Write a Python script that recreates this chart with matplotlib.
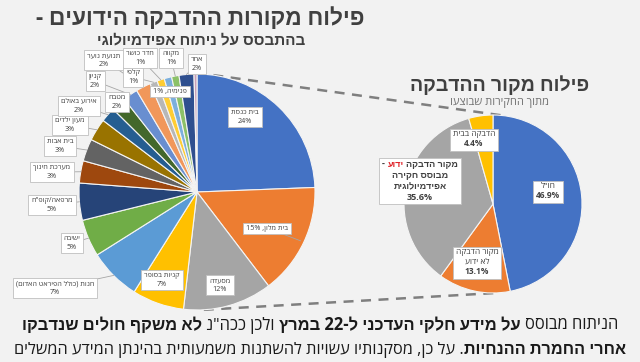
import re
import numpy as np
import matplotlib
matplotlib.use('Agg')
import matplotlib.pyplot as plt
from matplotlib.patches import Rectangle

plt.rcParams['font.family'] = ['Open Sans', 'Liberation Sans', 'DejaVu Sans']

W, H = 640, 362
BG = '#f2f2f2'
TXT = '#404040'

# known infection places - main pie, clockwise from 12 o'clock
places = ['בית כנסת', 'בית מלון', 'מסעדה', 'קניות בסופר', 'חנות (כולל הפיראט האדום)',
          'ישיבה', 'מרפאה/קופ"ח', 'מערכת חינוך', 'בית אבות', 'מעון ילדים',
          'אירוע באולם', 'מטבח', 'קניון', 'תנועת נוער', 'קלפי', 'חדר כושר',
          'פנימיה', 'מקווה', 'אחר', '']
place_pct = [24, 15, 12, 7, 7, 5, 5, 3, 3, 3, 2, 2, 2, 2, 1, 1, 1, 1, 2, 0.4]
place_colors = ['#4472C4', '#ED7D31', '#A5A5A5', '#FFC000', '#5B9BD5', '#70AD47',
                '#264478', '#9E480E', '#636363', '#997300', '#255E91', '#43682B',
                '#698ED0', '#F1975A', '#B7B7B7', '#FFCD33', '#7CAFDD', '#8CC168',
                '#2F4F8F', '#C9A0B8']
one_line = ['בית מלון', 'פנימיה']
# label centres (pixels, y from top)
place_label_xy = [(245, 117), (267, 228), (220, 285), (162, 280), (55, 288),
                  (72, 243), (52, 205), (52, 172), (60, 146), (70, 125),
                  (79, 106), (117, 102), (95, 81), (104, 60), (133, 77),
                  (140, 58), (170, 91), (171, 58), (197, 64), None]

# infection source - small pie, clockwise from 12 o'clock
sources = ['חו"ל', 'מקור הדבקה|לא ידוע', 'מקור הדבקה [ידוע] -|מבוסס חקירה|אפידמיולוגית', 'הדבקה בבית']
source_pct = [46.9, 13.1, 35.6, 4.4]
source_colors = ['#4472C4', '#ED7D31', '#A5A5A5', '#FFC000']
source_label_xy = [(548, 191), (477, 262), (420, 181), (474, 139)]

title = 'פילוח מקורות ההדבקה הידועים -'
subtitle = 'בהתבסס על ניתוח אפידמיולוגי'
title2 = 'פילוח מקור ההדבקה'
subtitle2 = 'מתוך החקירות שבוצעו'
note1 = 'הניתוח מבוסס **על מידע חלקי העדכני ל-22 במרץ** ולכן ככה"נ **לא משקף חולים שנדבקו**'
note2 = '**אחרי החמרת ההנחיות**. על כן, מסקנותיו עשויות להשתנות משמעותית בהינתן המידע המשלים'


def rtl(s):
    # visual order for right-to-left text, keeping numbers left-to-right
    s = s[::-1].translate(str.maketrans('()', ')('))
    return re.sub(r'%?\d+(?:[.,]\d+)*', lambda m: m.group(0)[::-1], s)


fig = plt.figure(figsize=(W / 100, H / 100), dpi=100, facecolor=BG)
ax = fig.add_axes([0, 0, 1, 1])
ax.set_facecolor(BG)
ax.set_xlim(0, W)
ax.set_ylim(0, H)
ax.axis('off')
rend = fig.canvas.get_renderer()


def text_w(s, fs, wt):
    t = ax.text(0, 0, s, fontsize=fs, fontweight=wt)
    w = t.get_window_extent(rend).width
    t.remove()
    return w


def parse(line, bold=False):
    segs, red = [], False
    for tok in re.split(r'(\*\*|\[|\])', line):
        if tok == '**':
            bold = not bold
        elif tok == '[':
            red = True
        elif tok == ']':
            red = False
        elif tok:
            segs.append((tok, 'bold' if (bold or red) else 'normal', '#e0242a' if red else TXT))
    return segs


def rtl_line(xc, y, segs, fs, color=None, z=5):
    sp = text_w('א א', fs, 'normal') - text_w('אא', fs, 'normal')
    items, total = [], 0
    for s, wt, col in segs:
        core = s.strip()
        lead = len(s) - len(s.lstrip())
        trail = len(s) - len(s.rstrip())
        w = text_w(rtl(core), fs, wt)
        items.append((core, wt, color or col, lead, trail, w))
        total += w + sp * (lead + trail)
    right = xc + total / 2
    arts = []
    for core, wt, col, lead, trail, w in items:
        right -= lead * sp
        arts.append(ax.text(right, H - y, rtl(core), fontsize=fs, fontweight=wt,
                            color=col, ha='right', va='center', zorder=z))
        right -= w + trail * sp
    return arts


def box_label(x, y, lines, fs, bold_last=False, all_bold=False):
    lh = fs * 1.2 * 100 / 72
    n = len(lines)
    arts = []
    for i, ln in enumerate(lines):
        yy = y + (i - (n - 1) / 2) * lh
        arts += rtl_line(x, yy, parse(ln, all_bold or (bold_last and i == n - 1)), fs)
    bbs = [a.get_window_extent(rend) for a in arts]
    x0 = min(b.x0 for b in bbs) - 3
    x1 = max(b.x1 for b in bbs) + 3
    y0 = min(b.y0 for b in bbs) - 2
    y1 = max(b.y1 for b in bbs) + 2
    ax.add_patch(Rectangle((x0, y0), x1 - x0, y1 - y0, fc='white', ec='#bfbfbf', lw=0.6, zorder=4))


def leader(wedge, xy, frac=1.0):
    mid = np.radians((wedge.theta1 + wedge.theta2) / 2)
    cx, cy = wedge.center
    r = wedge.r * frac
    ax.plot([xy[0], cx + r * np.cos(mid)], [H - xy[1], cy + r * np.sin(mid)],
            color='#a6a6a6', lw=0.6, zorder=3)


# main pie
c1, r1 = (197, H - 192), 118
wedges, _ = ax.pie(place_pct, colors=place_colors, startangle=90, counterclock=False,
                   center=c1, radius=r1, frame=True,
                   wedgeprops=dict(edgecolor='#f4f4f4', linewidth=0.8))
for name, pct, xy, w in zip(places, place_pct, place_label_xy, wedges):
    if xy is None:
        continue
    lines = [f'{name}, {pct}%'] if name in one_line else [name, f'{pct}%']
    box_label(xy[0], xy[1], lines, 5.2)
    dist = np.hypot(xy[0] - c1[0], (H - xy[1]) - c1[1])
    if dist > r1 * 0.95 or name == 'בית מלון':
        leader(w, xy, 1.0 if dist > r1 * 0.95 else 0.97)

# source pie
c2, r2 = (493, H - 204), 89
wedges2, _ = ax.pie(source_pct, colors=source_colors, startangle=90, counterclock=False,
                    center=c2, radius=r2, frame=True,
                    wedgeprops=dict(edgecolor='#f4f4f4', linewidth=0.8))
for name, pct, xy in zip(sources, source_pct, source_label_xy):
    lines = name.split('|') + [f'{pct}%']
    big = len(lines) > 3
    box_label(xy[0], xy[1], lines, 6.5 if big else 6, bold_last=True, all_bold=big)

# dashed connectors (outer tangents of the two circles)
d = np.subtract(c2, c1)
phi = np.arctan2(d[1], d[0])
alpha = np.arccos((r2 - r1) / np.hypot(*d))
for th in (phi + alpha, phi - alpha):
    n = np.array([np.cos(th), np.sin(th)])
    p1 = np.array(c1) - r1 * n
    p2 = np.array(c2) - r2 * n
    ax.plot([p1[0], p2[0]], [p1[1], p2[1]], ls=(0, (4, 3)), color='#7f7f7f', lw=1.8, zorder=0)

# titles
rtl_line(200, 19, [(title, 'bold', TXT)], 16.3)
rtl_line(201, 40, [(subtitle, 'bold', TXT)], 11)
rtl_line(500, 86, [(title2, 'bold', TXT)], 14)
rtl_line(499, 102, [(subtitle2, 'normal', '#707070')], 8)

# footnote
rtl_line(320, 325, parse(note1), 11.9, color='#1a1a1a')
rtl_line(320, 350, parse(note2), 11.7, color='#1a1a1a')

fig.savefig('out.png', dpi=100, facecolor=BG)
